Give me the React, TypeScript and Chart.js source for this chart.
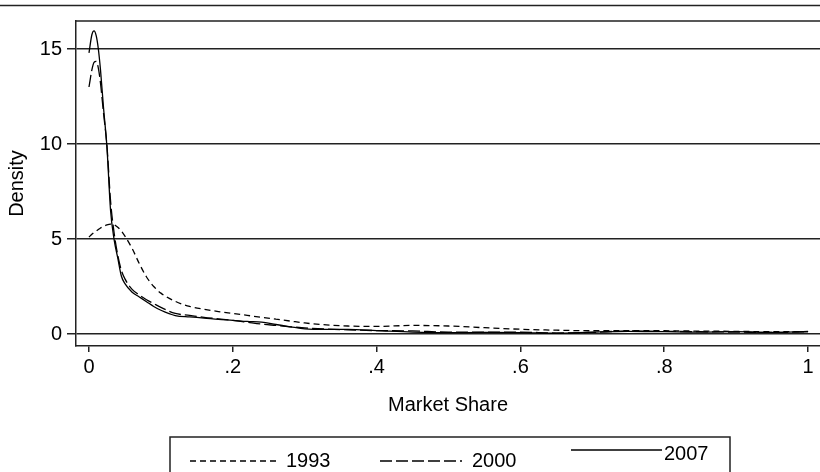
import React, { useEffect, useRef } from 'react';
import { Chart, registerables } from 'chart.js';

Chart.register(...registerables);

const marketShare = [0, 0.004, 0.007, 0.01, 0.013, 0.016, 0.02, 0.025, 0.03, 0.035, 0.04, 0.045, 0.05, 0.06, 0.07, 0.08, 0.09, 0.1, 0.12, 0.14, 0.16, 0.18, 0.2, 0.22, 0.24, 0.26, 0.28, 0.3, 0.33, 0.36, 0.4, 0.45, 0.5, 0.55, 0.6, 0.65, 0.7, 0.75, 0.8, 0.85, 0.9, 0.95, 1.0];

const density1993 = [5.1, 5.25, 5.35, 5.42, 5.5, 5.58, 5.66, 5.74, 5.78, 5.75, 5.62, 5.42, 5.15, 4.5, 3.7, 3.0, 2.5, 2.15, 1.72, 1.45, 1.3, 1.18, 1.08, 0.98, 0.88, 0.78, 0.68, 0.58, 0.48, 0.42, 0.4, 0.45, 0.42, 0.33, 0.25, 0.2, 0.17, 0.17, 0.17, 0.15, 0.14, 0.12, 0.12];

const density2000 = [13.0, 13.9, 14.3, 14.35, 14.0, 13.2, 11.7, 9.9, 7.0, 5.3, 4.15, 3.35, 2.9, 2.35, 2.05, 1.8, 1.6, 1.4, 1.08, 0.98, 0.88, 0.8, 0.72, 0.62, 0.52, 0.45, 0.38, 0.32, 0.26, 0.22, 0.18, 0.16, 0.1, 0.1, 0.1, 0.05, 0.08, 0.16, 0.14, 0.12, 0.1, 0.08, 0.12];

const density2007 = [14.8, 15.75, 15.95, 15.7, 15.0, 13.9, 12.0, 9.8, 6.5, 4.95, 4.0, 3.05, 2.65, 2.2, 1.95, 1.7, 1.45, 1.25, 0.97, 0.9, 0.84, 0.77, 0.72, 0.66, 0.62, 0.5, 0.38, 0.27, 0.24, 0.24, 0.18, 0.1, 0.07, 0.08, 0.07, 0.04, 0.1, 0.14, 0.12, 0.1, 0.12, 0.08, 0.13];

const seriesLabels = ['1993', '2000', '2007'];
const xTickValues = [0, 0.2, 0.4, 0.6, 0.8, 1];
const yTickValues = [0, 5, 10, 15];
const xAxisTitle = 'Market Share';
const yAxisTitle = 'Density';

const FONT = "'Liberation Sans', Arial, sans-serif";
const INK = '#222';

function formatShare(v: number): string {
  if (v === 0) return '0';
  if (v === 1) return '1';
  return String(v).replace(/^0/, '');
}

const framePlugin = {
  id: 'frame',
  afterDraw(chart: any) {
    const ctx = chart.ctx;
    const area = chart.chartArea;
    ctx.save();
    ctx.strokeStyle = INK;
    ctx.lineWidth = 1.5;
    ctx.beginPath();
    ctx.moveTo(0, 5.5);
    ctx.lineTo(chart.width, 5.5);
    ctx.moveTo(area.left, area.top);
    ctx.lineTo(area.right, area.top);
    ctx.stroke();

    // legend
    const boxLeft = 170;
    const boxTop = 437;
    const boxRight = 730;
    ctx.lineWidth = 1.5;
    ctx.strokeStyle = INK;
    ctx.strokeRect(boxLeft, boxTop, boxRight - boxLeft, 60);
    const items = [
      { x0: 190, x1: 276, y: 461, tx: 286, ty: 461 },
      { x0: 380, x1: 462, y: 461, tx: 472, ty: 461 },
      { x0: 571, x1: 662, y: 450, tx: 664, ty: 454 },
    ];
    chart.data.datasets.forEach((ds: any, i: number) => {
      const it = items[i];
      ctx.beginPath();
      ctx.setLineDash(ds.borderDash || []);
      ctx.lineWidth = 1.3;
      ctx.strokeStyle = '#000';
      ctx.moveTo(it.x0, it.y);
      ctx.lineTo(it.x1, it.y);
      ctx.stroke();
      ctx.setLineDash([]);
      ctx.fillStyle = '#000';
      ctx.font = `20px ${FONT}`;
      ctx.textAlign = 'left';
      ctx.textBaseline = 'middle';
      ctx.fillText(ds.label, it.tx, it.ty);
    });
    ctx.restore();
  },
};

export default function App() {
  const canvasRef = useRef<HTMLCanvasElement | null>(null);

  useEffect(() => {
    if (!canvasRef.current) return;
    const mk = (ys: number[]) => marketShare.map((x, i) => ({ x, y: ys[i] }));
    const chart = new Chart(canvasRef.current, {
      type: 'line',
      data: {
        datasets: [
          {
            label: seriesLabels[0],
            data: mk(density1993),
            borderColor: '#000',
            borderWidth: 1.3,
            borderDash: [6, 4],
            pointRadius: 0,
            fill: false,
            cubicInterpolationMode: 'monotone',
          },
          {
            label: seriesLabels[1],
            data: mk(density2000),
            borderColor: '#000',
            borderWidth: 1.3,
            borderDash: [12, 4],
            pointRadius: 0,
            fill: false,
            cubicInterpolationMode: 'monotone',
          },
          {
            label: seriesLabels[2],
            data: mk(density2007),
            borderColor: '#000',
            borderWidth: 1.3,
            pointRadius: 0,
            fill: false,
            cubicInterpolationMode: 'monotone',
          },
        ],
      },
      options: {
        animation: false,
        responsive: false,
        maintainAspectRatio: false,
        devicePixelRatio: 1,
        layout: { padding: { top: 21, right: 0, left: 0, bottom: 0 } },
        plugins: {
          legend: { display: false },
          tooltip: { enabled: false },
        },
        scales: {
          x: {
            type: 'linear',
            min: -0.01807,
            max: 1.0166,
            afterBuildTicks: (scale: any) => {
              scale.ticks = xTickValues.map((v) => ({ value: v }));
            },
            afterFit: (scale: any) => {
              scale.height = 126;
            },
            grid: {
              drawOnChartArea: false,
              drawTicks: true,
              tickLength: 6,
              color: INK,
              lineWidth: 1.5,
            },
            border: { display: true, color: INK, width: 1.5 },
            ticks: {
              color: '#000',
              font: { family: FONT, size: 20 },
              padding: 3,
              maxRotation: 0,
              autoSkip: false,
              callback: (v: any) => formatShare(Number(v)),
            },
            title: {
              display: true,
              text: xAxisTitle,
              color: '#000',
              font: { family: FONT, size: 20 },
              padding: { top: 0, bottom: 55 },
            },
          },
          y: {
            type: 'linear',
            min: -0.632,
            max: 16.474,
            afterBuildTicks: (scale: any) => {
              scale.ticks = yTickValues.map((v) => ({ value: v }));
            },
            afterFit: (scale: any) => {
              scale.width = 76;
            },
            grid: {
              drawOnChartArea: true,
              drawTicks: true,
              tickLength: 9,
              color: INK,
              lineWidth: 1.5,
            },
            border: { display: true, color: INK, width: 1.5 },
            ticks: {
              color: '#000',
              font: { family: FONT, size: 20 },
              padding: 5,
              autoSkip: false,
              callback: (v: any) => String(v),
            },
            title: {
              display: true,
              text: yAxisTitle,
              color: '#000',
              font: { family: FONT, size: 20 },
              padding: { top: 5, bottom: 0 },
            },
          },
        },
      },
      plugins: [framePlugin],
    } as any);
    return () => chart.destroy();
  }, []);

  return (
    <div style={{ position: 'absolute', left: 0, top: 0, width: 820, height: 472, background: '#fff' }}>
      <canvas ref={canvasRef} width={820} height={472} style={{ display: 'block' }} />
    </div>
  );
}
